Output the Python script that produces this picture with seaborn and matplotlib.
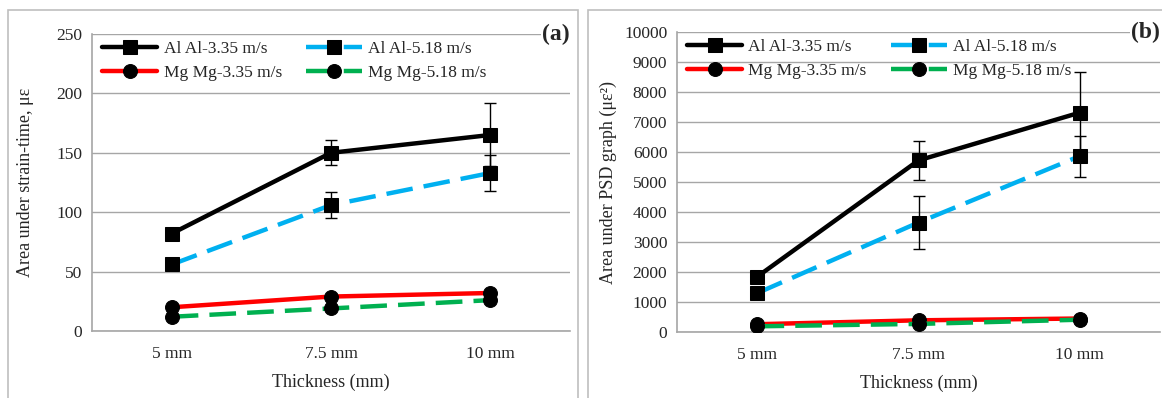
import matplotlib
matplotlib.use('Agg')
import matplotlib.pyplot as plt
import seaborn as sns
import numpy as np
from matplotlib.patches import Rectangle

# data
thickness = ['5 mm', '7.5 mm', '10 mm']
series_names = ['Al Al-3.35 m/s', 'Al Al-5.18 m/s', 'Mg Mg-3.35 m/s', 'Mg Mg-5.18 m/s']

strain_al_335 = [82, 150, 165]
strain_al_518 = [56, 106, 133]
strain_mg_335 = [20, 29, 32]
strain_mg_518 = [12, 19, 26]
strain_err_al_335 = [3, 10.5, 26.5]
strain_err_al_518 = [3, 11, 15]

psd_al_335 = [1850, 5720, 7310]
psd_al_518 = [1300, 3650, 5860]
psd_mg_335 = [260, 390, 450]
psd_mg_518 = [190, 270, 410]
psd_err_al_335 = [120, 645, 1350]
psd_err_al_518 = [100, 880, 680]

sns.set_style('white')
plt.rcParams['font.family'] = ['Liberation Serif', 'DejaVu Serif']

colors = ['black', '#00B0F0', '#FF0000', '#00B050']
styles = ['-', '--', '-', '--']
markers = ['s', 's', 'o', 'o']
grid_col = '#A6A6A6'

fig = plt.figure(figsize=(11.62, 3.98), dpi=100)
ax_a = fig.add_axes([0.0792, 0.1683, 0.4113, 0.7463])
ax_b = fig.add_axes([0.5826, 0.1658, 0.4157, 0.7538])

# panel frames
fig.patches.append(Rectangle((0.007, -0.01), 0.490, 0.985, transform=fig.transFigure,
                             fill=False, edgecolor='#BFBFBF', lw=1.2))
fig.patches.append(Rectangle((0.506, -0.01), 0.5, 0.985, transform=fig.transFigure,
                             fill=False, edgecolor='#BFBFBF', lw=1.2))


def draw_panel(ax, data, errs, ymax, ystep, ylabel, tag, ylabelpad):
    x = np.arange(len(thickness))
    for i, (name, vals) in enumerate(zip(series_names, data)):
        dash = (6, 2.5) if styles[i] == '--' else None
        sns.lineplot(x=x, y=vals, ax=ax, color=colors[i], lw=3.2,
                     marker=markers[i], markersize=10, markerfacecolor='black',
                     markeredgecolor='black', label=name, zorder=3 + i,
                     **({'dashes': dash} if dash else {}))
        if errs[i] is not None:
            ax.errorbar(x, vals, yerr=errs[i], fmt='none', ecolor='black',
                        elinewidth=1, capsize=4, capthick=1, zorder=2 + i)
    ax.set_xlim(-0.5, 2.5)
    ax.set_ylim(0, ymax)
    ax.set_yticks(np.arange(0, ymax + 1, ystep))
    ax.set_xticks([-0.5, 0.5, 1.5, 2.5])
    ax.set_xticklabels([])
    ax.set_xticks(x, minor=True)
    ax.set_xticklabels(thickness, minor=True)
    ax.tick_params(axis='x', which='major', length=6, color=grid_col, direction='out')
    ax.tick_params(axis='x', which='minor', length=0, labelsize=12.5, pad=11)
    ax.tick_params(axis='y', length=4, color=grid_col, labelsize=12.5, pad=3)
    ax.yaxis.grid(True, color=grid_col, lw=1)
    ax.set_axisbelow(True)
    for s in ['top', 'right']:
        ax.spines[s].set_visible(False)
    for s in ['left', 'bottom']:
        ax.spines[s].set_color(grid_col)
        ax.spines[s].set_linewidth(1.2)
    ax.set_xlabel('Thickness (mm)', fontsize=13, labelpad=8)
    ax.set_ylabel(ylabel, fontsize=13, labelpad=ylabelpad)
    h, l = ax.get_legend_handles_labels()
    order = [0, 2, 1, 3]
    ax.legend([h[k] for k in order], [l[k] for k in order], ncol=2, frameon=False,
              loc='upper left', bbox_to_anchor=(-0.012, 1.03), fontsize=12.5,
              handlelength=3.2, columnspacing=1.4, handletextpad=0.35,
              labelspacing=0.45)
    ax.text(1.0, 1.0, tag, transform=ax.transAxes, ha='right', va='center',
            fontsize=17, fontweight='bold', zorder=10,
            bbox=dict(facecolor='white', edgecolor='none', pad=1))


draw_panel(ax_a, [strain_al_335, strain_al_518, strain_mg_335, strain_mg_518],
           [strain_err_al_335, strain_err_al_518, None, None],
           250, 50, 'Area under strain-time, \u03bc\u03b5', '(a)', 16)
draw_panel(ax_b, [psd_al_335, psd_al_518, psd_mg_335, psd_mg_518],
           [psd_err_al_335, psd_err_al_518, None, None],
           10000, 1000, 'Area under PSD graph (\u03bc\u03b5\u00b2)', '(b)', 5)

plt.savefig('out.png', dpi=100, facecolor='white')
plt.close()
